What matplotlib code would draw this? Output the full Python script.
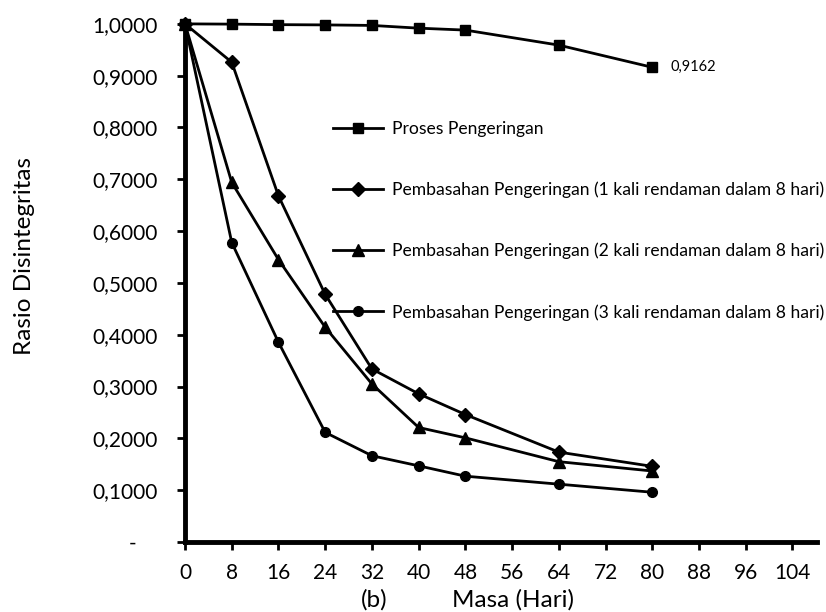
import matplotlib
matplotlib.use("Agg")
import matplotlib.pyplot as plt
from matplotlib.ticker import FuncFormatter, MultipleLocator

plt.rcParams['font.family'] = ['Lato', 'DejaVu Sans']

days = [0, 8, 16, 24, 32, 40, 48, 64, 80]
proses = [1.0, 0.9995, 0.9985, 0.998, 0.997, 0.9917, 0.988, 0.959, 0.9162]
basah1 = [1.0, 0.926, 0.668, 0.478, 0.334, 0.286, 0.246, 0.1735, 0.146]
basah2 = [1.0, 0.694, 0.545, 0.4145, 0.305, 0.221, 0.201, 0.155, 0.137]
basah3 = [1.0, 0.578, 0.3855, 0.2116, 0.1665, 0.147, 0.127, 0.1116, 0.096]

labels = ["Proses Pengeringan",
          "Pembasahan Pengeringan (1 kali rendaman dalam 8 hari)",
          "Pembasahan Pengeringan (2 kali rendaman dalam 8 hari)",
          "Pembasahan Pengeringan (3 kali rendaman dalam 8 hari)"]
markers = ['s', 'D', '^', 'o']
msizes = [7, 7.5, 8, 7]
series = [proses, basah1, basah2, basah3]

fig = plt.figure(figsize=(8.26, 6.12), dpi=100)
ax = fig.add_axes([0.224, 0.1144, 0.989 - 0.224, 0.961 - 0.1144])

for vals, mk, ms, lab in zip(series, markers, msizes, labels):
    ax.plot(days, vals, color='black', lw=2, marker=mk, ms=ms, label=lab,
            clip_on=False, zorder=3)

ax.annotate("0,9162", xy=(days[-1], proses[-1]), xytext=(13.5, 0),
            textcoords='offset points', fontsize=10.5, va='center', ha='left')

ax.set_xlim(0, 108.2)
ax.set_ylim(0, 1.0)
ax.set_xticks(range(0, 105, 8))
ax.yaxis.set_major_locator(MultipleLocator(0.1))

def yfmt(v, pos):
    if abs(v) < 1e-9:
        return "-    "
    return f"{v:.4f}".replace('.', ',')

ax.yaxis.set_major_formatter(FuncFormatter(yfmt))

for s in ['top', 'right']:
    ax.spines[s].set_visible(False)
for s in ['left', 'bottom']:
    ax.spines[s].set_linewidth(3.5)

ax.tick_params(axis='both', direction='out', length=5.5, width=2, labelsize=15)
ax.tick_params(axis='x', pad=9.5)
ax.tick_params(axis='y', pad=14)

fig.text(25 / 826, 1 - 256 / 612, "Rasio Disintegritas", fontsize=17.5,
         rotation=90, ha='center', va='center')
fig.text(452 / 826, 1 - 600 / 612, "Masa (Hari)", fontsize=17.5, ha='left', va='center')
fig.text(374 / 826, 1 - 600 / 612, "(b)", fontsize=17.5, ha='center', va='center')

leg = ax.legend(loc='upper left', bbox_to_anchor=(333 / 826, 1 - 121 / 612),
                bbox_transform=fig.transFigure, frameon=False, fontsize=12.6,
                handlelength=2.85, handletextpad=0.5, labelspacing=2.55,
                borderaxespad=0, borderpad=0)

fig.savefig("out.png", dpi=100)
